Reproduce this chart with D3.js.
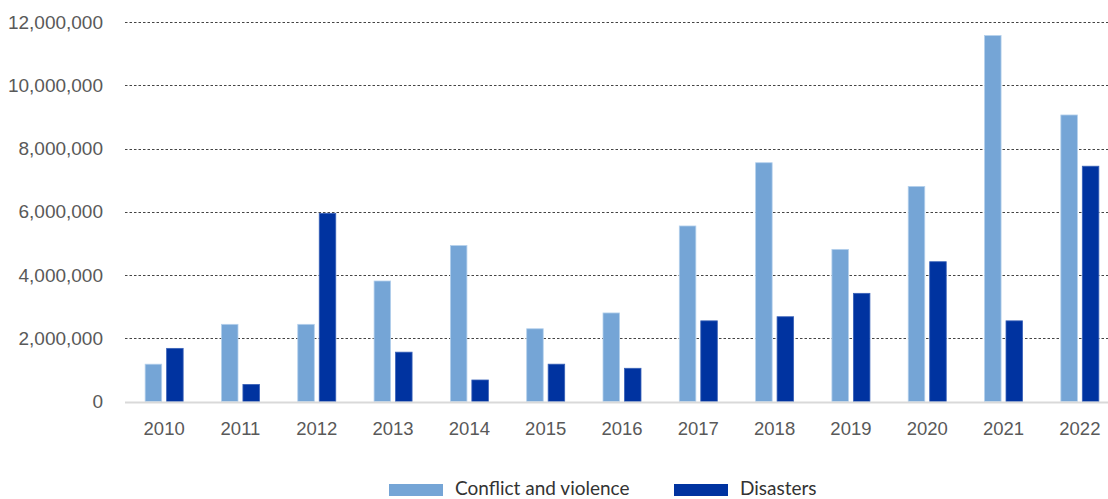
<!DOCTYPE html>
<html><head><meta charset="utf-8">
<script src="https://cdn.jsdelivr.net/npm/d3@7"></script>
<style>
html,body{margin:0;padding:0;background:#fff;}
svg{display:block;font-family:"Lato","Open Sans",sans-serif;}
</style></head>
<body>
<svg id="chart" width="1108" height="499"></svg>
<script>
const years = ["2010","2011","2012","2013","2014","2015","2016","2017","2018","2019","2020","2021","2022"];
const series = ["Conflict and violence","Disasters"];
const conflict = [1180000,2440000,2440000,3810000,4930000,2300000,2800000,5550000,7550000,4810000,6800000,11570000,9060000];
const disasters = [1680000,540000,5950000,1560000,680000,1180000,1050000,2550000,2680000,3420000,4420000,2550000,7440000];
const yTicks = [0,2000000,4000000,6000000,8000000,10000000,12000000];
const colors = ["#75a5d6","#0033a0"];
const strokes = ["#b4d0ec","#3a62b8"];

const svg = d3.select("#chart");
const x0 = d3.scaleBand().domain(years).range([126,1118]).padding(0);
const x1 = d3.scaleBand().domain(series).range([-19,19]).paddingInner(0.23);
const y = d3.scaleLinear().domain([0,12000000]).range([401.5,22]);

// gridlines
svg.append("g").selectAll("line").data(yTicks.filter(d=>d>0)).join("line")
  .attr("x1",125).attr("x2",1108)
  .attr("y1",d=>Math.round(y(d))+0.5).attr("y2",d=>Math.round(y(d))+0.5)
  .attr("stroke","#444").attr("stroke-width",1).attr("stroke-dasharray","2.5,2");

// y axis labels
const yAxis = d3.axisLeft(y).tickValues(yTicks).tickSize(0).tickPadding(0)
  .tickFormat(d=>d3.format(",")(d));
const gy = svg.append("g").attr("transform","translate(103,0)").call(yAxis);
gy.select(".domain").remove();
gy.selectAll("text").attr("fill","#595959").attr("font-size",19);

// bars
const data = years.map((yr,i)=>({year:yr, vals:[conflict[i],disasters[i]]}));
const groups = svg.append("g").selectAll("g").data(data).join("g")
  .attr("transform",d=>`translate(${x0(d.year)+x0.bandwidth()/2},0)`);
groups.selectAll("rect").data(d=>d.vals.map((v,j)=>({s:series[j],v,j}))).join("rect")
  .attr("x",d=>x1(d.s)).attr("width",x1.bandwidth())
  .attr("y",d=>y(d.v)).attr("height",d=>y(0)-y(d.v))
  .attr("fill",d=>colors[d.j]).attr("stroke",d=>strokes[d.j]).attr("stroke-width",0.8);

// baseline
svg.append("line").attr("x1",125).attr("x2",1108).attr("y1",402.5).attr("y2",402.5)
  .attr("stroke","#d9d9d9").attr("stroke-width",2);

// x axis labels
const xAxis = d3.axisBottom(x0).tickSize(0).tickPadding(0);
const gx = svg.append("g").attr("transform","translate(0,422)").call(xAxis);
gx.select(".domain").remove();
gx.selectAll("text").attr("fill","#595959").attr("font-size",18.5);

// legend
const legendX = [389,674];
const leg = svg.append("g").selectAll("g").data(series).join("g")
  .attr("transform",(d,i)=>`translate(${legendX[i]},484)`);
leg.append("rect").attr("width",54).attr("height",12).attr("fill",(d,i)=>colors[i]);
leg.append("text").attr("x",66).attr("y",11).attr("font-size",19).attr("fill","#333")
  .text(d=>d);
</script>
</body></html>
